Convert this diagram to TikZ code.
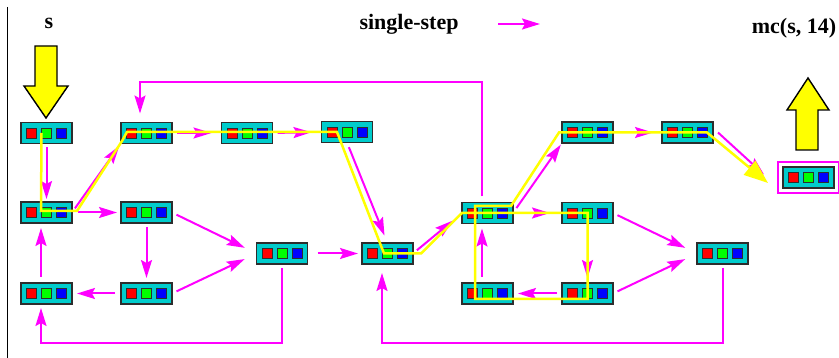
\documentclass[tikz,border=0pt]{standalone}
\usepackage{fontspec}
\setmainfont{Liberation Serif}
\usetikzlibrary{arrows.meta,fit}

\definecolor{boxfill}{RGB}{0,204,204}
\definecolor{boxline}{RGB}{45,45,45}
\definecolor{stepmag}{RGB}{255,0,255}
\definecolor{traceyel}{RGB}{255,255,0}
\definecolor{bitred}{RGB}{255,0,0}
\definecolor{bitgreen}{RGB}{0,255,0}
\definecolor{bitblue}{RGB}{0,0,255}

\begin{document}
\begin{tikzpicture}[x=1pt,y=-1pt,
  state/.style={rectangle, draw=boxline, line width=1.2pt, fill=boxfill,
    minimum width=51pt, minimum height=21pt, inner sep=0pt, outer sep=0pt,
    path picture={
      \foreach \dx/\c in {-15/bitred,0/bitgreen,15/bitblue}
        \draw[fill=\c, draw=boxline, line width=0.9pt]
          ([xshift=\dx pt]path picture bounding box.center)
          +(-5pt,-5pt) rectangle +(5pt,5pt);
    }},
  stepedge/.style={draw=stepmag, line width=2pt,
    -{Stealth[length=18pt,width=11pt,inset=3pt]}},
  tracepath/.style={draw=traceyel, line width=2.5pt, line join=miter},
  bigarrow/.style={fill=traceyel, draw=black, line width=1.4pt, line join=miter},
  lbl/.style={font=\fontsize{22}{26}\selectfont\bfseries, inner sep=0pt}
]
\useasboundingbox (0,0) rectangle (839,358);

% left rule
\draw[line width=1.5pt] (7.5,7) -- (7.5,358);

% labels and legend
\node[lbl, anchor=base] (slabel) at (49,29) {s};
\node[lbl, anchor=base] (legendtext) at (409,30) {single-step};
\node[lbl, anchor=base] (mclabel) at (794,34) {mc(s, 14)};
\coordinate (lgA) at (498,24);
\coordinate (lgB) at (540,24);
\draw[stepedge] (lgA) -- (lgB);

% states
\node[state] (A) at (46.5,133) {};
\node[state] (B) at (146.5,133) {};
\node[state] (C) at (247,133) {};
\node[state] (D) at (347,132) {};
\node[state] (E) at (46.5,212.5) {};
\node[state] (F) at (146.5,212.5) {};
\node[state] (G) at (46.5,293.5) {};
\node[state] (H) at (146.5,293.5) {};
\node[state] (I) at (282,253.5) {};
\node[state] (J) at (387.5,253.5) {};
\node[state] (K) at (487.5,213) {};
\node[state] (L) at (487.5,293.5) {};
\node[state] (M) at (587.5,132.5) {};
\node[state] (N) at (687.5,132.5) {};
\node[state] (O) at (587.5,213) {};
\node[state] (P) at (587.5,293.5) {};
\node[state] (Q) at (722.5,253.5) {};
\node[state] (R) at (808.5,177.5) {};
\node[draw=stepmag, line width=2pt, fit=(R), inner sep=5pt] (Rframe) {};

% routing points for the long connectors
\coordinate (topline) at (0,82);
\coordinate (lowline) at (0,343);
\coordinate (Kn) at ([xshift=-5.5pt]K.north);
\coordinate (Bn) at ([xshift=-6.5pt]B.north);
\coordinate (Gs) at ([xshift=-5.5pt]G.south);
\coordinate (Js) at ([xshift=-5.5pt]J.south);

% single steps
\draw[stepedge, shorten <=4pt, shorten >=3pt] (A.south) -- (E.north);
\draw[stepedge, shorten <=5pt, shorten >=3pt] (E.east) -- (B.south west);
\draw[stepedge, shorten <=5pt, shorten >=10pt] (B.east) -- (C.west);
\draw[stepedge, shorten <=5pt, shorten >=10pt] (C.east) -- (D.west);
\draw[stepedge, shorten <=5pt, shorten >=8pt] (D.south) -- (J.north);
\draw[stepedge, shorten <=6pt, shorten >=4pt] (E.east) -- (F.west);
\draw[stepedge, shorten <=4pt, shorten >=5pt] (F.south) -- (H.north);
\draw[stepedge, shorten <=6pt, shorten >=5pt] (H.west) -- (G.east);
\draw[stepedge, shorten <=6pt, shorten >=5pt] ([xshift=-5.5pt]G.north) -- ([xshift=-5.5pt]E.south);
\draw[stepedge, shorten <=5pt, shorten >=13pt] (F.east) -- (I.west);
\draw[stepedge, shorten <=5pt, shorten >=13pt] (H.east) -- (I.west);
\draw[stepedge, shorten <=4pt, shorten >=4pt] (I.south) -- (I.south |- lowline) -| (Gs);
\draw[stepedge, shorten <=10pt, shorten >=4pt] (I.east) -- (J.west);
\draw[stepedge, shorten <=5pt, shorten >=12pt] (J.east) -- (K.west);
\draw[stepedge, shorten <=6pt, shorten >=9pt] (Kn) -- (Kn |- topline) -| (Bn);
\draw[stepedge, shorten <=6pt, shorten >=2pt] (K.east) -- (M.south west);
\draw[stepedge, shorten <=6pt, shorten >=12pt] (K.east) -- (O.west);
\draw[stepedge, shorten <=6pt, shorten >=5pt] ([xshift=-5.5pt]L.north) -- ([xshift=-5.5pt]K.south);
\draw[stepedge, shorten <=5pt, shorten >=5pt] (O.south) -- (P.north);
\draw[stepedge, shorten <=5pt, shorten >=5pt] (P.west) -- (L.east);
\draw[stepedge, shorten <=5pt, shorten >=13pt] (O.east) -- (Q.west);
\draw[stepedge, shorten <=5pt, shorten >=13pt] (P.east) -- (Q.west);
\draw[stepedge, shorten <=4pt, shorten >=9pt] (Q.south) -- (Q.south |- lowline) -| (Js);
\draw[stepedge, shorten <=5pt, shorten >=9pt] (M.east) -- (N.west);
\draw[stepedge] ([xshift=5pt]N.east) -- ([xshift=-19pt,yshift=3pt]R.west);

% the 14-step run
\draw[tracepath, -{Triangle[length=24pt,width=18pt]}]
  ([xshift=-5pt]A.center)
  -- ([xshift=-5.5pt,yshift=1.5pt]E.center)
  -- ([xshift=5pt,yshift=1.5pt]E.east)
  -- ([xshift=-24.5pt,yshift=-8pt]B.center)
  -- ([xshift=-19.5pt,yshift=1pt]B.center)
  -- ([xshift=-10pt]D.center)
  -- ([xshift=-3.5pt]J.center)
  -- ([xshift=8pt]J.east)
  -- (K.west)
  -- (O.center)
  -- ([yshift=-5.5pt]P.center)
  -- ([xshift=-12.5pt,yshift=-5.5pt]L.center)
  -- ([xshift=-12.5pt,yshift=7pt]K.center)
  -- ([xshift=23.5pt,yshift=7pt]K.center)
  -- ([xshift=-3pt]M.west)
  -- ([xshift=19.5pt]N.center)
  -- ([xshift=-15pt,yshift=-5.5pt]R.west);

% start and result arrows
\draw[bigarrow] (35,46) -- (57,46) -- (57,86) -- (68,86) -- (46,118)
  -- (24,86) -- (35,86) -- cycle;
\draw[bigarrow] (796,150) -- (818,150) -- (818,110) -- (829,110) -- (808,78)
  -- (787,110) -- (796,110) -- cycle;
\end{tikzpicture}
\end{document}
